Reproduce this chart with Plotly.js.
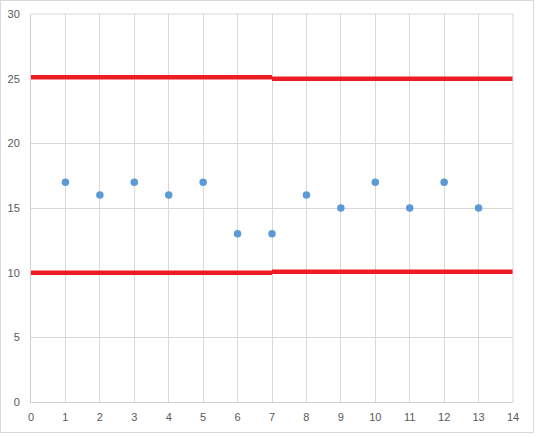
<!DOCTYPE html>
<html><head><meta charset="utf-8">
<script src="https://cdn.plot.ly/plotly-3.0.1.min.js"></script>
<style>
html,body{margin:0;padding:0;background:#fff;}
#box{position:absolute;left:0;top:0;width:532px;height:431px;border:1px solid #d9d9d9;}
#chart{width:532px;height:431px;}
</style></head>
<body><div id="box"><div id="chart"></div></div>
<script>
const xPoints = [1,2,3,4,5,6,7,8,9,10,11,12,13];
const yPoints = [17,16,17,16,17,13,13,16,15,17,15,17,15];
const upperX1 = [0,7], upperY1 = [25.1,25.1];
const upperX2 = [7,14], upperY2 = [25.0,25.0];
const lowerX1 = [0,7], lowerY1 = [10.0,10.0];
const lowerX2 = [7,14], lowerY2 = [10.08,10.08];
const xTicks = [0,1,2,3,4,5,6,7,8,9,10,11,12,13,14];
const yTicks = [0,5,10,15,20,25,30];

const red = '#ed1c24';
const lineTrace = (x,y)=>({x:x,y:y,mode:'lines',type:'scatter',line:{color:red,width:4.5},cliponaxis:false,hoverinfo:'skip',showlegend:false});
const data = [
  lineTrace(upperX1,upperY1), lineTrace(upperX2,upperY2),
  lineTrace(lowerX1,lowerY1), lineTrace(lowerX2,lowerY2),
  {x:xPoints,y:yPoints,mode:'markers',type:'scatter',marker:{color:'#5b9bd5',size:7.5},showlegend:false}
];
const font = {family:'Liberation Sans, Arial, sans-serif',size:11,color:'#595959'};
const layout = {
  width:532,height:431,
  margin:{l:30,r:20,t:13,b:30},
  paper_bgcolor:'#fff',plot_bgcolor:'#fff',
  font:font,showlegend:false,
  xaxis:{range:[0,14],tickvals:xTicks,ticktext:xTicks.map(String),showgrid:true,gridcolor:'#d9d9d9',gridwidth:1,
    zeroline:false,showline:true,linecolor:'#d0d0d0',ticks:'',ticklen:0,ticklabelstandoff:5,tickfont:font,fixedrange:true},
  yaxis:{range:[0,30],tickvals:yTicks,ticktext:yTicks.map(String),showgrid:true,gridcolor:'#d9d9d9',gridwidth:1,
    zeroline:false,showline:true,linecolor:'#d0d0d0',ticks:'',ticklen:0,ticklabelstandoff:8,tickfont:font,fixedrange:true},
  shapes:[{type:'line',xref:'paper',yref:'paper',x0:1,x1:1,y0:0,y1:1,line:{color:'#d9d9d9',width:1}},
          {type:'line',xref:'paper',yref:'paper',x0:0,x1:1,y0:1,y1:1,line:{color:'#d9d9d9',width:1}}]
};
Plotly.newPlot('chart',data,layout,{staticPlot:true});
</script></body></html>
